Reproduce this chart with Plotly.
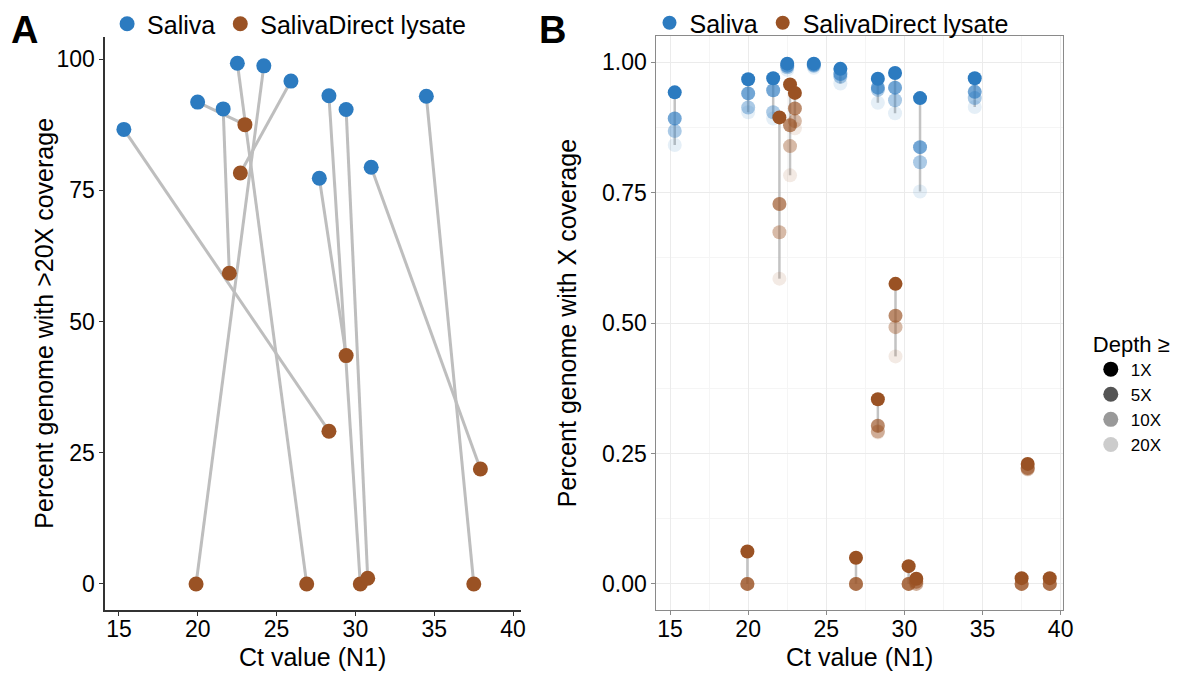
import plotly.graph_objects as go

# ---------------- Data ----------------
# Panel A: percent genome with >20X coverage, paired samples
a_saliva_ct = [15.31, 19.99, 21.61, 22.51, 24.19, 25.91, 27.71, 28.32, 29.41, 31.00, 34.50]
a_saliva_pct = [86.6, 91.8, 90.5, 99.2, 98.7, 95.8, 77.3, 93.0, 90.4, 79.4, 92.9]
a_lysate_ct = [28.32, 22.99, 22.00, 26.91, 19.89, 22.70, 29.41, 30.31, 30.78, 37.93, 37.51]
a_lysate_pct = [29.1, 87.5, 59.2, 0.0, 0.0, 78.3, 43.5, 0.0, 1.1, 21.9, 0.0]

# Panel B: fraction genome with X coverage by depth
depths = ["1X", "5X", "10X", "20X"]
depth_alpha = [1.0, 0.67, 0.4, 0.12]

b_saliva_ct = [15.3, 20.0, 21.6, 22.5, 24.2, 25.9, 28.3, 29.4, 31.0, 34.5]
b_saliva = {
    "1X":  [0.942, 0.967, 0.969, 0.997, 0.997, 0.987, 0.968, 0.979, 0.931, 0.969],
    "5X":  [0.892, 0.940, 0.946, 0.993, 0.995, 0.977, 0.951, 0.951, 0.837, 0.943],
    "10X": [0.868, 0.913, 0.904, 0.990, 0.993, 0.972, 0.947, 0.927, 0.808, 0.931],
    "20X": [0.841, 0.904, 0.892, 0.985, 0.989, 0.959, 0.922, 0.902, 0.752, 0.914],
}
b_lysate_ct = [19.95, 22.0, 22.68, 22.99, 26.9, 28.3, 29.43, 30.27, 30.76, 37.5, 37.89, 39.3]
b_lysate = {
    "1X":  [0.062, 0.894, 0.957, 0.941, 0.050, 0.354, 0.575, 0.034, 0.010, 0.011, 0.230, 0.011],
    "5X":  [0.000, 0.728, 0.879, 0.911, 0.000, 0.303, 0.514, 0.000, 0.004, 0.000, 0.222, 0.000],
    "10X": [0.000, 0.674, 0.839, 0.887, 0.000, 0.292, 0.492, 0.000, 0.000, 0.000, 0.220, 0.000],
    "20X": [0.000, 0.585, 0.783, 0.873, 0.000, 0.290, 0.436, 0.000, 0.000, 0.000, 0.219, 0.000],
}

xticks = [15, 20, 25, 30, 35, 40]
a_yticks = [0, 25, 50, 75, 100]
b_yticks = [0, 0.25, 0.5, 0.75, 1.0]
b_yticklabels = ["0.00", "0.25", "0.50", "0.75", "1.00"]

# ---------------- Style ----------------
BLUE = "#2C7BC0"
BROWN = "#9A5224"
FONT = "Liberation Sans, Arial, sans-serif"
W, H = 1193, 673

fig = go.Figure()

# ---- Panel A connecting lines ----
lx, ly = [], []
for sx, sy, lx_, ly_ in zip(a_saliva_ct, a_saliva_pct, a_lysate_ct, a_lysate_pct):
    lx += [sx, lx_, None]
    ly += [sy, ly_, None]
fig.add_trace(go.Scatter(x=lx, y=ly, mode="lines", line=dict(color="#BEBEBE", width=3),
                         showlegend=False, hoverinfo="skip", xaxis="x", yaxis="y"))
fig.add_trace(go.Scatter(x=a_saliva_ct, y=a_saliva_pct, mode="markers", name="Saliva",
                         marker=dict(color=BLUE, size=15, line=dict(width=0)),
                         legend="legend", xaxis="x", yaxis="y"))
fig.add_trace(go.Scatter(x=a_lysate_ct, y=a_lysate_pct, mode="markers", name="SalivaDirect lysate",
                         marker=dict(color=BROWN, size=15, line=dict(width=0)),
                         legend="legend", xaxis="x", yaxis="y"))

# ---- Panel B vertical lines per sample ----
for cts, vals in ((b_saliva_ct, b_saliva), (b_lysate_ct, b_lysate)):
    vx, vy = [], []
    for i, c in enumerate(cts):
        for d in depths:
            vx.append(c)
            vy.append(vals[d][i])
        vx.append(None)
        vy.append(None)
    fig.add_trace(go.Scatter(x=vx, y=vy, mode="lines", line=dict(color="rgba(175,175,175,0.75)", width=2.5),
                             showlegend=False, hoverinfo="skip", xaxis="x2", yaxis="y2"))

# ---- Panel B markers (faint first) ----
for d, a in list(zip(depths, depth_alpha))[::-1]:
    fig.add_trace(go.Scatter(x=b_saliva_ct, y=b_saliva[d], mode="markers", name="Saliva",
                             marker=dict(color=BLUE, size=14, opacity=a, line=dict(width=0)),
                             showlegend=(d == "1X"), legend="legend2", xaxis="x2", yaxis="y2"))
for d, a in list(zip(depths, depth_alpha))[::-1]:
    fig.add_trace(go.Scatter(x=b_lysate_ct, y=b_lysate[d], mode="markers", name="SalivaDirect lysate",
                             marker=dict(color=BROWN, size=14, opacity=a, line=dict(width=0)),
                             showlegend=(d == "1X"), legend="legend2", xaxis="x2", yaxis="y2"))

# ---- Depth legend entries ----
for d, a in zip(depths, depth_alpha):
    fig.add_trace(go.Scatter(x=[None], y=[None], mode="markers", name=d,
                             marker=dict(color="black", size=15, opacity=a),
                             legend="legend3", xaxis="x2", yaxis="y2"))

def px_x(p):
    return p / W

def px_y(p):
    return 1 - p / H

tick_font = dict(family=FONT, size=23, color="black")
title_font = dict(family=FONT, size=25, color="black")

common_a = dict(showgrid=False, zeroline=False, showline=True, linecolor="#333333", linewidth=1.5,
                ticks="outside", ticklen=4, tickcolor="#333333", tickfont=tick_font)
common_b = dict(showgrid=True, gridcolor="#EBEBEB", gridwidth=1.2,
                zeroline=False, showline=True, mirror=True, linecolor="#8A8A8A", linewidth=1,
                ticks="outside", ticklen=4, tickcolor="#8A8A8A", tickfont=tick_font)


def ann(text, x, y, size_font, angle=0):
    return dict(text=text, x=px_x(x), y=px_y(y), xref="paper", yref="paper",
                xanchor="center", yanchor="middle", showarrow=False,
                textangle=angle, font=size_font)


fig.update_layout(
    width=W, height=H,
    margin=dict(l=0, r=0, t=0, b=0),
    paper_bgcolor="white", plot_bgcolor="white",
    font=dict(family=FONT, size=20, color="black"),
    xaxis=dict(domain=[px_x(106), px_x(525)], range=[14.12, 40.48], tickvals=xticks,
               ticklabelstandoff=-6, anchor="y", **common_a),
    yaxis=dict(domain=[px_y(610), px_y(37)], range=[-4.96, 104.2], tickvals=a_yticks,
               anchor="x", **common_a),
    xaxis2=dict(domain=[px_x(662), px_x(1072)], range=[14.13, 40.15], tickvals=xticks,
                ticklabelstandoff=-6,
                minor=dict(showgrid=True, dtick=2.5, tick0=12.5, gridcolor="#F5F5F5", gridwidth=0.8),
                anchor="y2", **common_b),
    yaxis2=dict(domain=[px_y(610), px_y(36)], range=[-0.05, 1.05], tickvals=b_yticks, ticktext=b_yticklabels,
                minor=dict(showgrid=True, dtick=0.125, tick0=0.125, gridcolor="#F5F5F5", gridwidth=0.8),
                anchor="x2", **common_b),
    legend=dict(x=px_x(108), y=px_y(1), xanchor="left", yanchor="top", orientation="h",
                font=dict(family=FONT, size=25), bgcolor="rgba(0,0,0,0)", itemwidth=30,
                traceorder="normal"),
    legend2=dict(x=px_x(655), y=px_y(0), xanchor="left", yanchor="top", orientation="h",
                 font=dict(family=FONT, size=25), bgcolor="rgba(0,0,0,0)", itemwidth=30,
                 traceorder="normal"),
    legend3=dict(x=px_x(1100), y=px_y(323), xanchor="left", yanchor="top", orientation="v",
                 title=dict(text="Depth ≥", font=dict(family=FONT, size=22)),
                 font=dict(family=FONT, size=17), bgcolor="rgba(0,0,0,0)", itemwidth=30,
                 tracegroupgap=0),
    annotations=[
        ann("<b>A</b>", 25, 30, dict(family=FONT, size=38, color="black")),
        ann("<b>B</b>", 557, 30, dict(family=FONT, size=38, color="black")),
        ann("Ct value (N1)", 315, 657, title_font),
        ann("Ct value (N1)", 867, 657, title_font),
        ann("Percent genome with >20X coverage", 44, 323, title_font, -90),
        ann("Percent genome with X coverage", 572, 323, title_font, -90),
    ],
)

fig.write_html("out.html", config={"displayModeBar": False},
               post_script="document.body.style.margin='0';")
